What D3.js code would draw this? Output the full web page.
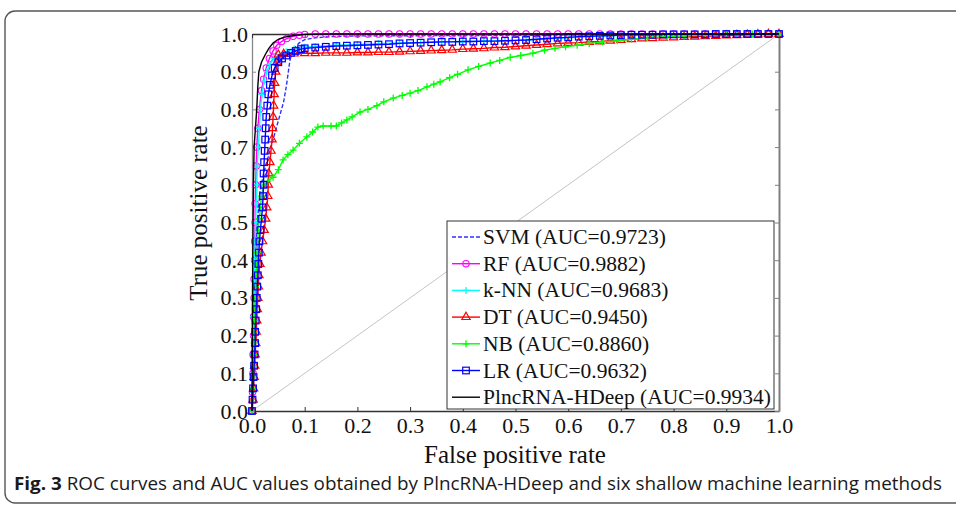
<!DOCTYPE html>
<html><head><meta charset="utf-8">
<script src="https://cdn.jsdelivr.net/npm/d3@7"></script>
<style>body{margin:0;background:#fff}svg{display:block}</style>
</head><body><svg id="c" width="956" height="506"></svg>
<script>
// ---------- data ----------
const xTicks = [0,0.1,0.2,0.3,0.4,0.5,0.6,0.7,0.8,0.9,1.0];
const yTicks = [0,0.1,0.2,0.3,0.4,0.5,0.6,0.7,0.8,0.9,1.0];
const seriesNames = ["SVM","RF","k-NN","DT","NB","LR","PlncRNA-HDeep"];
const aucValues = ["0.9723","0.9882","0.9683","0.9450","0.8860","0.9632","0.9934"];

const svmROC = [[0,0],[0.003,0.2],[0.006,0.4],[0.01,0.5],[0.015,0.58],[0.022,0.63],[0.03,0.67],[0.038,0.71],[0.046,0.75],[0.054,0.79],[0.06,0.82],[0.065,0.86],[0.069,0.9],[0.072,0.93],[0.076,0.95],[0.082,0.965],[0.09,0.977],[0.1,0.985],[0.12,0.99],[0.15,0.993],[0.2,0.995],[0.4,0.996],[0.6,0.997],[0.8,0.999],[1,1]];

const rfROC = [[0,0],[0.001,0.05],[0.002,0.1],[0.002,0.15],[0.003,0.2],[0.003,0.25],[0.004,0.3],[0.004,0.35],[0.005,0.4],[0.005,0.45],[0.006,0.5],[0.006,0.55],[0.007,0.6],[0.008,0.65],[0.009,0.7],[0.011,0.75],[0.014,0.8],[0.018,0.85],[0.022,0.88],[0.027,0.91],[0.033,0.935],[0.04,0.955],[0.047,0.97],[0.056,0.98],[0.066,0.988],[0.078,0.994],[0.09,0.997],[0.1,0.999],
[0.12,1],[0.14,1],[0.16,1],[0.18,1],[0.2,1],[0.22,1],[0.24,1],[0.26,1],[0.28,1],[0.3,1],[0.32,1],[0.34,1],[0.36,1],[0.38,1],[0.4,1],[0.42,1],[0.44,1],[0.46,1],[0.48,1],[0.5,1],[0.52,1],[0.54,1],[0.56,1],[0.58,1],[0.6,1],[0.62,1],[0.64,1],[0.66,1],[0.68,1],[0.7,1],[0.72,1],[0.74,1],[0.76,1],[0.78,1],[0.8,1],[0.82,1],[0.84,1],[0.86,1],[0.88,1],[0.9,1],[0.92,1],[0.94,1],[0.96,1],[0.98,1],[1,1]];

const knnROC = [[0,0],[0.001,0.05],[0.002,0.1],[0.002,0.15],[0.003,0.2],[0.003,0.25],[0.004,0.3],[0.005,0.35],[0.005,0.4],[0.006,0.45],[0.007,0.5],[0.008,0.55],[0.009,0.6],[0.01,0.65],[0.012,0.7],[0.014,0.75],[0.016,0.8],[0.019,0.84],[0.023,0.875],[0.028,0.9],[0.034,0.92],[0.042,0.935],[0.052,0.945],[0.065,0.953],[0.08,0.96],[0.1,0.965],
[0.12,0.967],[0.16,0.97],[0.2,0.972],[0.24,0.974],[0.28,0.976],[0.32,0.977],[0.36,0.979],[0.4,0.98],[0.44,0.981],[0.48,0.982],[0.52,0.984],[0.56,0.987],[0.6,0.99],[0.64,0.993],[0.68,0.995],[0.72,0.997],[0.76,0.998],[0.8,0.999],[0.84,0.999],[0.88,1],[0.92,1],[0.96,1],[1,1]];

const dtROC = [[0,0],[0.002,0.03],[0.003,0.06],[0.004,0.09],[0.005,0.12],[0.006,0.15],[0.007,0.18],[0.008,0.21],[0.009,0.24],[0.01,0.27],[0.011,0.3],[0.012,0.33],[0.013,0.36],[0.015,0.39],[0.017,0.42],[0.02,0.45],[0.023,0.48],[0.026,0.51],[0.028,0.54],[0.03,0.57],[0.031,0.6],[0.032,0.63],[0.034,0.66],[0.036,0.69],[0.038,0.72],[0.039,0.75],[0.04,0.78],[0.041,0.81],[0.042,0.84],[0.043,0.87],[0.045,0.9],[0.047,0.925],[0.05,0.945],
[0.06,0.947],[0.08,0.948],[0.1,0.949],[0.12,0.949],[0.14,0.95],[0.16,0.95],[0.18,0.95],[0.2,0.951],[0.22,0.951],[0.24,0.952],[0.26,0.952],[0.28,0.953],[0.3,0.954],[0.32,0.955],[0.34,0.956],[0.36,0.957],[0.38,0.958],[0.4,0.96],[0.42,0.961],[0.44,0.962],[0.46,0.964],[0.48,0.965],[0.5,0.967],[0.52,0.969],[0.54,0.971],[0.56,0.973],[0.58,0.975],[0.6,0.976],[0.62,0.977],[0.64,0.979],[0.66,0.98],[0.68,0.982],[0.7,0.984],[0.72,0.986],[0.74,0.988],[0.76,0.989],[0.78,0.99],[0.8,0.991],[0.82,0.992],[0.84,0.993],[0.86,0.994],[0.88,0.995],[0.9,0.996],[0.92,0.997],[0.94,0.998],[0.96,0.999],[0.98,1],[1,1]];

const nbROC = [[0,0],[0.001,0.03],[0.002,0.06],[0.003,0.09],[0.003,0.12],[0.004,0.15],[0.004,0.18],[0.005,0.21],[0.005,0.24],[0.006,0.27],[0.006,0.3],[0.007,0.33],[0.008,0.36],[0.009,0.39],[0.01,0.42],[0.011,0.45],[0.012,0.48],[0.014,0.51],[0.016,0.54],[0.018,0.57],[0.022,0.6],[0.03,0.61],[0.04,0.62],[0.05,0.64],[0.059,0.666],[0.068,0.68],[0.078,0.692],[0.09,0.71],[0.104,0.727],[0.115,0.74],[0.125,0.753],[0.135,0.756],[0.15,0.756],[0.16,0.756],[0.17,0.764],[0.18,0.772],[0.19,0.78],[0.205,0.793],[0.22,0.8],[0.237,0.81],[0.25,0.82],[0.268,0.83],[0.285,0.837],[0.3,0.843],[0.315,0.85],[0.332,0.86],[0.345,0.867],[0.357,0.873],[0.375,0.884],[0.39,0.893],[0.41,0.905],[0.43,0.914],[0.452,0.923],[0.47,0.93],[0.49,0.938],[0.51,0.943],[0.533,0.949],[0.555,0.957],[0.575,0.962],[0.595,0.966],[0.617,0.97],[0.64,0.975],[0.665,0.979],[0.693,0.982],[0.72,0.986],[0.75,0.99],[0.787,0.993],[0.82,0.995],[0.86,0.997],[0.9,0.999],[0.95,1],[1,1]];

const lrROC = [[0,0],[0.001,0.03],[0.002,0.06],[0.003,0.09],[0.004,0.12],[0.005,0.15],[0.006,0.18],[0.006,0.21],[0.007,0.24],[0.008,0.27],[0.009,0.3],[0.01,0.33],[0.011,0.36],[0.012,0.39],[0.013,0.42],[0.014,0.45],[0.016,0.48],[0.018,0.51],[0.02,0.54],[0.021,0.57],[0.022,0.6],[0.022,0.63],[0.023,0.66],[0.024,0.69],[0.025,0.72],[0.026,0.75],[0.027,0.78],[0.029,0.81],[0.031,0.84],[0.034,0.865],[0.038,0.89],[0.043,0.91],[0.05,0.925],[0.057,0.935],[0.065,0.943],[0.074,0.95],[0.083,0.955],[0.093,0.96],[0.1,0.962],
[0.12,0.964],[0.14,0.966],[0.16,0.968],[0.18,0.969],[0.2,0.97],[0.22,0.971],[0.24,0.972],[0.26,0.973],[0.28,0.975],[0.3,0.976],[0.32,0.977],[0.34,0.978],[0.36,0.979],[0.38,0.979],[0.4,0.98],[0.42,0.98],[0.44,0.981],[0.46,0.981],[0.48,0.982],[0.5,0.983],[0.52,0.984],[0.54,0.986],[0.56,0.988],[0.58,0.99],[0.6,0.991],[0.62,0.993],[0.64,0.994],[0.66,0.995],[0.68,0.996],[0.7,0.997],[0.72,0.998],[0.74,0.998],[0.76,0.998],[0.78,0.999],[0.8,0.999],[0.82,0.999],[0.84,0.999],[0.86,0.999],[0.88,1],[0.9,1],[0.92,1],[0.94,1],[0.96,1],[0.98,1],[1,1]];

const hdeepROC = [[0,0],[0.001,0.3],[0.002,0.5],[0.003,0.62],[0.004,0.7],[0.007,0.76],[0.009,0.8],[0.011,0.86],[0.013,0.9],[0.018,0.925],[0.025,0.945],[0.032,0.962],[0.04,0.976],[0.05,0.986],[0.06,0.991],[0.078,0.996],[0.1,0.999],[0.15,1],[1,1]];

const seriesData = [svmROC, rfROC, knnROC, dtROC, nbROC, lrROC, hdeepROC];
const seriesColors = ["#3030ff","#ff00ff","#00ffff","#ff0000","#00ff00","#0000ff","#000000"];
const seriesMarkers = ["none","circle","plus","triangle","plus","square","none"];
const seriesDash = ["4,2",null,null,null,null,null,null];

// ---------- drawing ----------
const svg = d3.select("#c");
const serif = "'Liberation Serif','Times New Roman',serif";

svg.append("rect").attr("x",5).attr("y",11).attr("width",1000).attr("height",492)
  .attr("rx",10).attr("fill","none").attr("stroke","#555").attr("stroke-width",1.4);

const x = d3.scaleLinear().domain([0,1]).range([252,779]);
const y = d3.scaleLinear().domain([0,1]).range([411,34]);

// reference diagonal
svg.append("line").attr("x1",x(0)).attr("y1",y(0)).attr("x2",x(1)).attr("y2",y(1))
  .attr("stroke","#c4c4c4").attr("stroke-width",1);

// axes (box, inward ticks)
function styleAxis(g, col, w){
  g.select(".domain").attr("stroke",col).attr("stroke-width",w);
  g.selectAll(".tick line").attr("stroke",col);
  g.selectAll("text").attr("font-family",serif).attr("font-size",22).attr("fill","#111");
}
const fmt = d3.format(".1f");
svg.append("g").attr("transform",`translate(0,${y(0)})`)
  .call(d3.axisBottom(x).tickValues(xTicks).tickFormat(fmt).tickSizeInner(-4).tickSizeOuter(0).tickPadding(6))
  .call(g=>styleAxis(g,"#333",1.3));
svg.append("g").attr("transform",`translate(${x(0)},0)`)
  .call(d3.axisLeft(y).tickValues(yTicks).tickFormat(fmt).tickSizeInner(-4).tickSizeOuter(0).tickPadding(4))
  .call(g=>styleAxis(g,"#888",1.3));
svg.append("g").attr("transform",`translate(0,${y(1)})`)
  .call(d3.axisTop(x).tickValues(xTicks).tickFormat("").tickSizeInner(-4).tickSizeOuter(0))
  .call(g=>styleAxis(g,"#333",1.3));
svg.append("g").attr("transform",`translate(${x(1)},0)`)
  .call(d3.axisRight(y).tickValues(yTicks).tickFormat("").tickSizeInner(-4).tickSizeOuter(0))
  .call(g=>styleAxis(g,"#808080",2));

// axis titles
svg.append("text").attr("x",515).attr("y",463).attr("text-anchor","middle")
  .attr("font-family",serif).attr("font-size",25).attr("fill","#111").text("False positive rate");
svg.append("text").attr("transform","translate(207,213) rotate(-90)").attr("text-anchor","middle")
  .attr("font-family",serif).attr("font-size",25).attr("fill","#111").text("True positive rate");

// markers
function drawMarker(g, type, col){
  if(type==="circle") g.append("circle").attr("r",3.2).attr("fill","none").attr("stroke",col).attr("stroke-width",1.1);
  else if(type==="square") g.append("rect").attr("x",-3.3).attr("y",-3.3).attr("width",6.6).attr("height",6.6).attr("fill","none").attr("stroke",col).attr("stroke-width",1.2);
  else if(type==="triangle") g.append("path").attr("d",d3.symbol(d3.symbolTriangle,30)()).attr("fill","none").attr("stroke",col).attr("stroke-width",1.2);
  else if(type==="plus") g.append("path").attr("d","M-3.5,0H3.5M0,-3.5V3.5").attr("stroke",col).attr("stroke-width",1.3);
}

const line = d3.line().x(d=>x(d[0])).y(d=>y(d[1]));
seriesData.forEach((data,i)=>{
  const g = svg.append("g");
  g.append("path").datum(data).attr("d",line).attr("fill","none")
    .attr("stroke",seriesColors[i]).attr("stroke-width",1.4)
    .attr("stroke-dasharray",seriesDash[i]);
  if(seriesMarkers[i]!=="none"){
    g.selectAll("g.m").data(data).join("g").attr("class","m")
      .attr("transform",d=>`translate(${x(d[0])},${y(d[1])})`)
      .each(function(){ drawMarker(d3.select(this), seriesMarkers[i], seriesColors[i]); });
  }
});

// legend
const lg = svg.append("g");
lg.append("rect").attr("x",447).attr("y",221).attr("width",327).attr("height",188)
  .attr("fill","#fff").attr("stroke","#333").attr("stroke-width",1);
seriesNames.forEach((n,i)=>{
  const cy = 237 + i*26.7;
  lg.append("line").attr("x1",452).attr("x2",480).attr("y1",cy).attr("y2",cy)
    .attr("stroke",seriesColors[i]).attr("stroke-width",1.4).attr("stroke-dasharray",seriesDash[i]);
  if(seriesMarkers[i]!=="none"){
    const m = lg.append("g").attr("transform",`translate(466,${cy})`);
    drawMarker(m, seriesMarkers[i], seriesColors[i]);
  }
  lg.append("text").attr("x",483).attr("y",cy+7).attr("font-family",serif).attr("font-size",21.5)
    .attr("fill","#111").text(`${n} (AUC=${aucValues[i]})`);
});

// caption
const cap = svg.append("text").attr("x",14).attr("y",490)
  .attr("font-family","'Open Sans','Noto Sans',sans-serif").attr("font-size",17.5).attr("fill","#1a1a1a");
cap.append("tspan").attr("font-weight","bold").text("Fig. 3");
cap.append("tspan").text("  ROC curves and AUC values obtained by PlncRNA-HDeep and six shallow machine learning methods");
cap.attr("textLength",928).attr("lengthAdjust","spacingAndGlyphs");
</script></body></html>
